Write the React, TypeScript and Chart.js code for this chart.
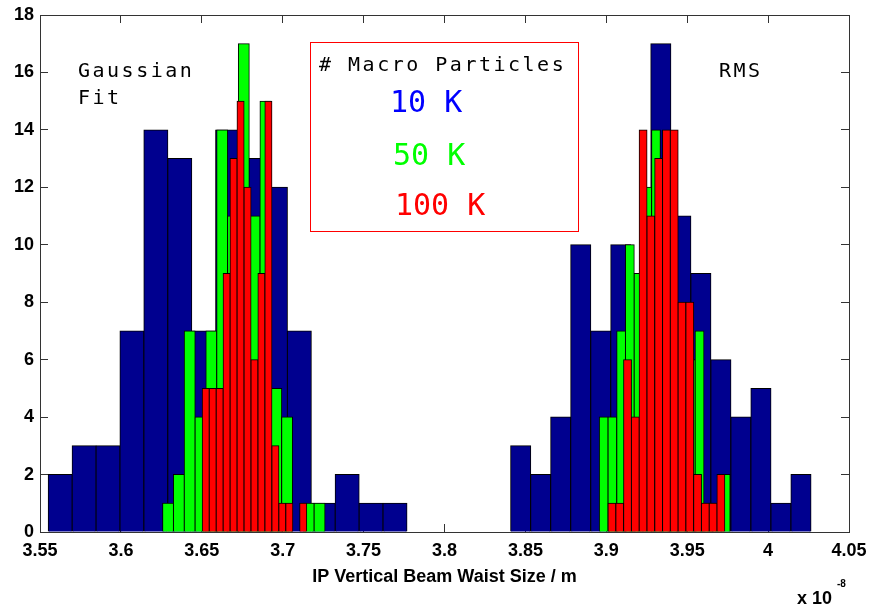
import React, { useEffect, useRef } from 'react';
import { Chart, registerables } from 'chart.js';

Chart.register(...registerables);

// x values are in units of 1e-8 m
const xTickLabels = ['3.55', '3.6', '3.65', '3.7', '3.75', '3.8', '3.85', '3.9', '3.95', '4', '4.05'];
const yTickLabels = ['0', '2', '4', '6', '8', '10', '12', '14', '16', '18'];
const xMin = 3.55;
const xMax = 4.05;
const xStep = 0.05;
const yMin = 0;
const yMax = 18;
const yStep = 2;
const xAxisTitle = 'IP Vertical Beam Waist Size / m';
const xExponentBase = 'x 10';
const xExponent = '-8';

// 10 K macro particles
const gauss10kStart = 3.5551;
const gauss10kBinWidth = 0.014779;
const gauss10kCounts = [2, 3, 3, 7, 14, 13, 7, 14, 13, 12, 7, 1, 2, 1, 1];
const rms10kStart = 3.8409;
const rms10kBinWidth = 0.012373;
const rms10kCounts = [3, 2, 4, 10, 7, 10, 9, 17, 11, 9, 6, 4, 5, 1, 2];

// 50 K macro particles
const gauss50kStart = 3.6258;
const gauss50kBinWidth = 0.0066873;
const gauss50kCounts = [1, 2, 7, 4, 7, 14, 11, 17, 11, 15, 5, 4, 0, 1, 1];
const rms50kStart = 3.8957;
const rms50kBinWidth = 0.0053848;
const rms50kCounts = [4, 4, 7, 10, 9, 12, 14, 13, 7, 3, 6, 7, 1, 1, 2];

// 100 K macro particles
const gauss100kStart = 3.6503;
const gauss100kBinWidth = 0.0043016;
const gauss100kCounts = [5, 5, 5, 9, 13, 15, 12, 6, 9, 15, 3, 1, 1, 0, 1];
const rms100kStart = 3.9011;
const rms100kBinWidth = 0.0048084;
const rms100kCounts = [1, 1, 6, 4, 14, 11, 13, 14, 14, 8, 8, 2, 1, 1, 2];

const legendTitle = '# Macro Particles';
const seriesLabels = ['10 K', '50 K', '100 K'];
const barColors = ['#00008F', '#00FF00', '#FF0000'];
const legendTextColors = ['#0000FF', '#00FF00', '#FF0000'];
const leftNoteLines = ['Gaussian', 'Fit'];
const rightNote = 'RMS';

const tickFont = { family: '"Liberation Sans", Arial, sans-serif', size: 18, weight: 'bold' as const };
const monoFamily = '"DejaVu Sans Mono", monospace';

function histDataset(label: string, start: number, width: number, counts: number[], color: string, order: number) {
  return {
    label,
    data: counts.map((c, i) => ({ x: start + (i + 0.5) * width, y: c === 0 ? null : c })),
    backgroundColor: color,
    borderColor: '#000000',
    borderWidth: 1,
    borderSkipped: 'start',
    inflateAmount: 0.5,
    grouped: false,
    order,
    barThickness: (ctx: any) => {
      const s = ctx.chart.scales.x;
      return Math.abs(s.getPixelForValue(start + width) - s.getPixelForValue(start));
    },
  };
}

const annotationPlugin = {
  id: 'histAnnotations',
  afterDraw(chart: any) {
    const ctx: CanvasRenderingContext2D = chart.ctx;
    ctx.save();
    // legend box
    ctx.fillStyle = '#FFFFFF';
    ctx.fillRect(310.5, 42.5, 268, 189);
    ctx.strokeStyle = '#FF0000';
    ctx.lineWidth = 1;
    ctx.strokeRect(310.5, 42.5, 268, 189);

    ctx.textAlign = 'left';
    ctx.textBaseline = 'alphabetic';
    (ctx as any).letterSpacing = '2.5px';
    ctx.font = `20px ${monoFamily}`;
    ctx.fillStyle = '#000000';
    ctx.fillText(legendTitle, 319, 71);
    ctx.fillText(leftNoteLines[0], 78, 77);
    ctx.fillText(leftNoteLines[1], 78, 104);
    ctx.fillText(rightNote, 719, 77);

    (ctx as any).letterSpacing = '0px';
    ctx.font = `30px ${monoFamily}`;
    const lx = [390, 393, 395];
    const ly = [112, 165, 215];
    seriesLabels.forEach((t, i) => {
      ctx.fillStyle = legendTextColors[i];
      ctx.fillText(t, lx[i], ly[i]);
    });

    // exponent label
    ctx.fillStyle = '#000000';
    ctx.font = `bold 18px "Liberation Sans", Arial, sans-serif`;
    ctx.fillText(xExponentBase, 797, 604);
    ctx.font = `bold 10px "Liberation Sans", Arial, sans-serif`;
    ctx.fillText(xExponent, 837, 587);
    ctx.restore();
  },
};

function makeAxisGrid() {
  return {
    drawOnChartArea: false,
    drawTicks: true,
    tickLength: -8,
    color: '#333333',
    tickColor: '#333333',
    offset: false,
  };
}

function fixSize(w: number | null, h: number | null) {
  return (s: any) => {
    if (w !== null) s.width = w;
    if (h !== null) s.height = h;
    s.paddingLeft = 0;
    s.paddingRight = 0;
    s.paddingTop = 0;
    s.paddingBottom = 0;
  };
}

export default function App() {
  const canvasRef = useRef<HTMLCanvasElement | null>(null);

  useEffect(() => {
    if (!canvasRef.current) return;
    const datasets: any[] = [
      histDataset(seriesLabels[2], gauss100kStart, gauss100kBinWidth, gauss100kCounts, barColors[2], 0),
      histDataset(seriesLabels[2], rms100kStart, rms100kBinWidth, rms100kCounts, barColors[2], 1),
      histDataset(seriesLabels[1], gauss50kStart, gauss50kBinWidth, gauss50kCounts, barColors[1], 2),
      histDataset(seriesLabels[1], rms50kStart, rms50kBinWidth, rms50kCounts, barColors[1], 3),
      histDataset(seriesLabels[0], gauss10kStart, gauss10kBinWidth, gauss10kCounts, barColors[0], 4),
      histDataset(seriesLabels[0], rms10kStart, rms10kBinWidth, rms10kCounts, barColors[0], 5),
    ];
    const border = { display: true, color: '#333333', width: 1 };
    const chart = new Chart(canvasRef.current, {
      type: 'bar',
      data: { datasets },
      plugins: [annotationPlugin],
      options: {
        animation: false,
        responsive: false,
        maintainAspectRatio: false,
        devicePixelRatio: 1,
        events: [],
        layout: { padding: { left: 0, top: 15, right: 25, bottom: 0 } },
        plugins: { legend: { display: false }, tooltip: { enabled: false }, title: { display: false } },
        scales: {
          x: {
            type: 'linear',
            position: 'bottom',
            min: xMin,
            max: xMax,
            offset: false,
            ticks: {
              stepSize: xStep,
              autoSkip: false,
              maxRotation: 0,
              padding: 16,
              color: '#000000',
              font: tickFont,
              callback: (_v: any, i: number) => xTickLabels[i],
            },
            grid: makeAxisGrid(),
            border,
            title: {
              display: true,
              text: xAxisTitle,
              color: '#000000',
              font: tickFont,
              padding: { top: 0, bottom: 19 },
            },
            afterFit: fixSize(null, 75),
          },
          x2: {
            type: 'linear',
            position: 'top',
            min: xMin,
            max: xMax,
            offset: false,
            ticks: { stepSize: xStep, display: false, autoSkip: false },
            grid: makeAxisGrid(),
            border,
            afterFit: fixSize(null, 0),
          },
          y: {
            type: 'linear',
            position: 'left',
            min: yMin,
            max: yMax,
            ticks: {
              stepSize: yStep,
              padding: 14,
              color: '#000000',
              font: tickFont,
              callback: (_v: any, i: number) => yTickLabels[i],
            },
            grid: makeAxisGrid(),
            border,
            afterFit: fixSize(40, null),
          },
          y2: {
            type: 'linear',
            position: 'right',
            min: yMin,
            max: yMax,
            ticks: { stepSize: yStep, display: false },
            grid: makeAxisGrid(),
            border,
            afterFit: fixSize(0, null),
          },
        },
      } as any,
    });
    return () => chart.destroy();
  }, []);

  return (
    <div style={{ position: 'fixed', left: 0, top: 0, width: 874, height: 607, background: '#FFFFFF' }}>
      <canvas ref={canvasRef} width={874} height={607} />
    </div>
  );
}
